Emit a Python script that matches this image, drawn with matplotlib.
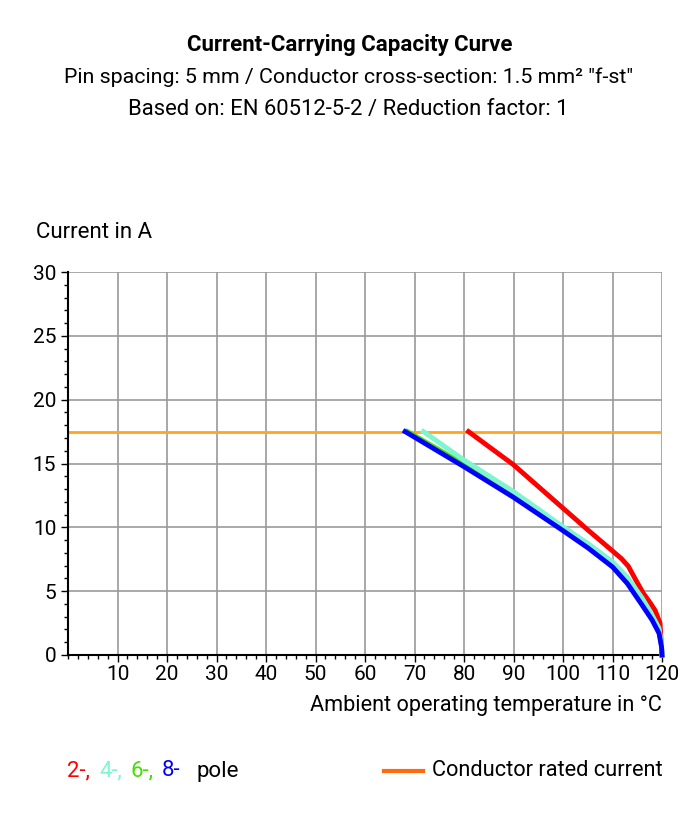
import matplotlib
matplotlib.use("Agg")
import matplotlib.pyplot as plt
from matplotlib.ticker import MultipleLocator

plt.rcParams['font.family'] = ['Roboto', 'DejaVu Sans']

# (temperature in degC, current in A)
temp_2pole = [80.9, 90, 100, 105, 110, 111.8, 113.2, 114.6, 116.2, 117.5, 118.6, 119.6, 120]
curr_2pole = [17.5, 14.9, 11.5, 9.8, 8.15, 7.55, 6.95, 5.95, 4.85, 4.15, 3.5, 2.5, 0]

temp_4pole = [71.8, 80, 90, 100, 105, 110, 113, 116, 118, 119.4, 119.9, 120]
curr_4pole = [17.5, 15.27, 12.8, 10.05, 8.75, 7.3, 6.1, 4.45, 3.13, 2.1, 0.9, 0]

temp_6pole = [68.6, 80, 90, 100, 105, 110, 113, 116, 118, 119.4, 119.9, 120]
curr_6pole = [17.5, 14.93, 12.5, 9.9, 8.55, 7.05, 5.8, 4.1, 2.9, 1.85, 0.75, 0]

temp_8pole = [68.1, 80, 90, 100, 105, 110, 113, 116, 118, 119.4, 119.9, 120]
curr_8pole = [17.5, 14.75, 12.35, 9.74, 8.4, 6.9, 5.6, 3.9, 2.74, 1.7, 0.65, 0]

rated_current = 17.5

fig = plt.figure(figsize=(6.97, 8.17), dpi=100)
ax = fig.add_axes([68 / 697, 1 - 655 / 817, (662 - 68) / 697, (655 - 272) / 817])

ax.axhline(rated_current, color='#ffa51f', lw=2, zorder=2)
curves = [(temp_2pole, curr_2pole, '#ff0000', 3),
          (temp_6pole, curr_6pole, '#44e000', 3),
          (temp_8pole, curr_8pole, '#0000ff', 4),
          (temp_4pole, curr_4pole, '#7ff5cf', 3)]
for t, c, col, z in curves:
    ax.plot(t, c, color=col, lw=3.5, zorder=z, solid_joinstyle='round', clip_on=False)

ax.set_xlim(0, 120)
ax.set_ylim(0, 30)
ax.xaxis.set_minor_locator(MultipleLocator(2))
ax.yaxis.set_major_locator(MultipleLocator(5))
ax.yaxis.set_minor_locator(MultipleLocator(1))
ax.set_xticks(range(10, 121, 10))
ax.grid(True, which='major', color='#9a9a9a', lw=1.2)
for s in ['top', 'right']:
    ax.spines[s].set_visible(False)
ax.spines['left'].set_linewidth(1.5)
ax.spines['bottom'].set_linewidth(1.5)
ax.tick_params(which='major', length=5, width=1, labelsize=15)
ax.tick_params(which='minor', length=3, width=1)
ax.tick_params(axis='x', pad=2)

fig.text(36 / 697, 1 - 233 / 817, 'Current in A', fontsize=16, va='center', ha='left')
fig.text(662 / 697, 1 - 706 / 817, 'Ambient operating temperature in \u00b0C', fontsize=15.6,
         va='center', ha='right')

fig.text(350 / 697, 1 - 45 / 817, 'Current-Carrying Capacity Curve', fontsize=16,
         fontweight='bold', ha='center', va='center')
fig.text(349 / 697, 1 - 77 / 817, 'Pin spacing: 5 mm / Conductor cross-section: 1.5 mm\u00b2 "f-st"',
         fontsize=15.4, ha='center', va='center')
fig.text(348 / 697, 1 - 110 / 817, 'Based on: EN 60512-5-2 / Reduction factor: 1',
         fontsize=15.8, ha='center', va='center')

# legend
ly = 1 - 771 / 817
for x, txt, col in [(67, '2-,', '#ff0000'), (99, '4-,', '#7ff5cf'),
                    (131, '6-,', '#44e000'), (162, '8-', '#0000ff'),
                    (197, 'pole', 'black')]:
    fig.text(x / 697, ly, txt, color=col, fontsize=16, va='center', ha='left')
fig.add_artist(plt.Line2D([384 / 697, 423 / 697], [ly, ly], color='#ff6a10', lw=3))
fig.text(432 / 697, ly, 'Conductor rated current', fontsize=15.7, va='center', ha='left')

fig.savefig('out.png', dpi=100)
